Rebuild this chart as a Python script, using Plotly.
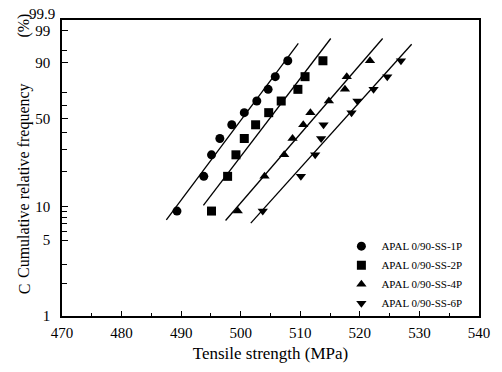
import numpy as np
import plotly.graph_objects as go

# Cumulative relative frequency (%) of each ranked specimen (same ranks for all series)
freq_pct = [9.1, 18.2, 27.3, 36.4, 45.5, 54.5, 63.6, 72.7, 81.8, 90.9]

# Tensile strength (MPa)
ss_1p = [489.3, 493.8, 495.1, 496.5, 498.5, 500.6, 502.7, 504.6, 505.8, 507.9]
ss_2p = [495.1, 497.8, 499.2, 500.6, 502.5, 504.7, 506.8, 509.6, 510.8, 513.8]
ss_4p = [499.5, 504.0, 507.3, 508.7, 510.5, 511.7, 514.8, 517.5, 517.8, 521.7]
ss_6p = [503.7, 510.1, 512.5, 513.5, 513.9, 518.6, 519.6, 522.3, 524.6, 526.9]

series_names = ["APAL 0/90-SS-1P", "APAL 0/90-SS-2P", "APAL 0/90-SS-4P", "APAL 0/90-SS-6P"]
series_values = [ss_1p, ss_2p, ss_4p, ss_6p]
series_symbols = ["circle", "square", "triangle-up", "triangle-down"]

# extent (in %) of the fitted straight lines
fit_lo_pct = [7.6, 10.2, 7.5, 7.1]
fit_hi_pct = [96.9, 97.9, 97.9, 96.7]

y_major_pct = [1, 5, 10, 50, 90, 99]
y_major_text = ["1", "5", "10", "50", "90", "99"]
y_minor_pct = [2, 3, 6, 7, 8, 9, 20, 30, 40, 60, 70, 95]
y_top_pct = 99.68
x_major = [470, 480, 490, 500, 510, 520, 530, 540]
x_minor = [475, 485, 495, 505, 515, 525, 535]


def weib(p):
    p = np.asarray(p, dtype=float) / 100.0
    return np.log(-np.log(1.0 - p))


FONT = "Liberation Serif"
fig = go.Figure()
wy = weib(freq_pct)
for name, vals, sym, lo, hi in zip(series_names, series_values, series_symbols, fit_lo_pct, fit_hi_pct):
    b, a = np.polyfit(wy, np.asarray(vals), 1)
    wl = weib([lo, hi])
    fig.add_trace(go.Scatter(x=a + b * wl, y=wl, mode="lines",
                             line=dict(color="black", width=1.3), showlegend=False,
                             hoverinfo="skip"))
for name, vals, sym in zip(series_names, series_values, series_symbols):
    fig.add_trace(go.Scatter(x=vals, y=wy, mode="markers", name=name,
                             marker=dict(symbol=sym, size=9, color="black")))

fig.update_layout(
    width=502, height=372,
    margin=dict(l=62, r=22, t=20, b=54),
    paper_bgcolor="white", plot_bgcolor="white",
    font=dict(family=FONT, color="black", size=14),
    showlegend=True,
    legend=dict(x=0.67, y=0.285, xanchor="left", yanchor="top",
                font=dict(family=FONT, size=11), bgcolor="rgba(0,0,0,0)",
                tracegroupgap=0),
)
fig.update_xaxes(range=[470, 540], tickvals=x_major, ticks="inside", ticklen=5,
                 tickwidth=1.2, tickcolor="black", showline=True, linecolor="black",
                 linewidth=1.5, mirror=True, showgrid=False, zeroline=False,
                 tickfont=dict(size=15), ticklabelstandoff=2,
                 minor=dict(tickvals=x_minor, ticks="inside", ticklen=3, tickcolor="black"),
                 title=dict(text="Tensile strength (MPa)", font=dict(size=17), standoff=7))
fig.update_yaxes(range=[weib(1), weib(y_top_pct)], tickvals=weib(y_major_pct), ticktext=y_major_text,
                 ticks="inside", ticklen=6, tickwidth=1.2, tickcolor="black",
                 showline=True, linecolor="black", linewidth=1.5, mirror=True,
                 showgrid=False, zeroline=False, tickfont=dict(size=15), ticklabelstandoff=7,
                 minor=dict(tickvals=weib(y_minor_pct), ticks="inside", ticklen=5, tickcolor="black"))

# top label and split y-axis title
fig.add_annotation(text="99.9", xref="paper", yref="paper", x=-0.012, y=1.02,
                   xanchor="right", yanchor="middle", showarrow=False, font=dict(size=15))
ytitle_x = (24 - 62) / 418
fig.add_annotation(text="C", xref="paper", yref="paper", x=ytitle_x, y=(318 - 291) / 298,
                   xanchor="center", yanchor="middle",
                   textangle=-90, showarrow=False, font=dict(size=16))
fig.add_annotation(text="Cumulative relative frequency", xref="paper", yref="paper",
                   x=ytitle_x, y=(318 - 182) / 298, xanchor="center", yanchor="middle",
                   textangle=-90, showarrow=False, font=dict(size=16))
fig.add_annotation(text="(%)", xref="paper", yref="paper", x=ytitle_x, y=(318 - 25.5) / 298,
                   xanchor="center", yanchor="middle",
                   textangle=-90, showarrow=False, font=dict(size=16))

fig.write_html("out.html")
